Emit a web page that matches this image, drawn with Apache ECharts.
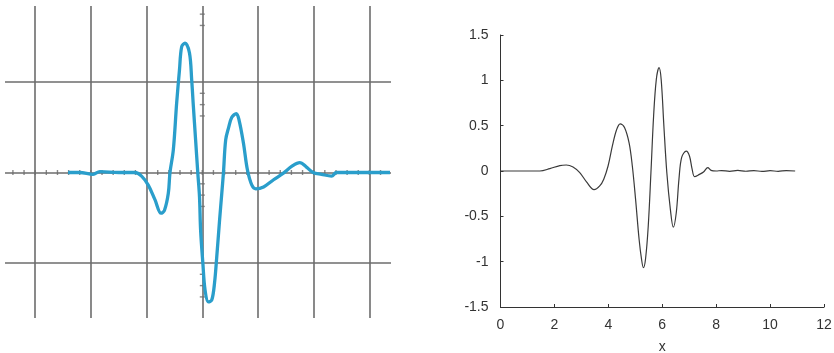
<!DOCTYPE html>
<html>
<head>
<meta charset="utf-8">
<title>Wavelet comparison</title>
<script src="https://cdn.jsdelivr.net/npm/echarts@6/dist/echarts.min.js"></script>
<style>
  html, body { margin: 0; padding: 0; background: #ffffff; }
  #chart { width: 834px; height: 353px; }
</style>
</head>
<body>
<div id="chart"></div>
<script>
// ---- Scope trace (left), in screen divisions ----
const scopeX = [-2.41, -2.2, -1.96, -1.84, -1.5, -1.21, -1.09, -0.97, -0.85, -0.74, -0.68, -0.61, -0.58,
  -0.52, -0.46, -0.41, -0.37, -0.31, -0.23, -0.19, -0.16, -0.12, -0.08, -0.05, -0.03, 0.01, 0.05,
  0.11, 0.17, 0.22, 0.26, 0.31, 0.35, 0.38, 0.42, 0.47, 0.53, 0.61, 0.66, 0.74, 0.81, 0.89, 0.96,
  1.10, 1.28, 1.45, 1.61, 1.75, 1.87, 1.99, 2.14, 2.32, 2.41, 2.83, 3.19, 3.37];
const scopeY = [0, 0, -0.02, 0.01, 0, 0, -0.04, -0.14, -0.30, -0.45, -0.42, -0.23, 0,
  0.25, 0.77, 1.13, 1.39, 1.43, 1.32, 1.02, 0.73, 0.36, -0.01, -0.27, -0.64, -1.00, -1.30,
  -1.43, -1.41, -1.22, -0.93, -0.53, -0.23, 0, 0.36, 0.49, 0.61, 0.65, 0.58, 0.32, 0.03, -0.14, -0.18,
  -0.16, -0.08, -0.01, 0.07, 0.11, 0.06, 0, -0.02, -0.04, 0, 0, 0, 0];

// Graticule: major divisions and the minor marks on the centre lines
const scopeMajorX = [-3, -2, -1, 0, 1, 2, 3];
const scopeMajorY = [-1, 0, 1];
const scopeMinorStepX = 0.2;
const scopeMinorY = [1.75, 1.625, 0.875, 0.75, 0.625, -0.125, -0.25, -0.375, -1.125, -1.25, -1.375];

// ---- Simulated wavelet (right) ----
const simX = [0, 1.46, 1.83, 2.2, 2.44, 2.69, 2.94, 3.19, 3.47, 3.68, 3.83, 3.99, 4.15, 4.30, 4.44,
  4.6, 4.77, 4.89, 5.01, 5.14, 5.23, 5.30, 5.38, 5.48, 5.58, 5.68, 5.78, 5.88, 5.96, 6.06, 6.17,
  6.3, 6.41, 6.52, 6.62, 6.72, 6.89, 7.01, 7.11, 7.2, 7.38, 7.53, 7.69, 7.81, 8.0, 8.2, 8.5, 8.8,
  9.1, 9.4, 9.7, 10.0, 10.3, 10.6, 10.93];
const simY = [0, 0, 0.026, 0.06, 0.066, 0.044, -0.018, -0.12, -0.206, -0.165, -0.09, 0.055, 0.276, 0.45, 0.52,
  0.48, 0.31, 0.055, -0.31, -0.75, -0.97, -1.066, -0.97, -0.61, -0.02, 0.61, 1.01, 1.14, 1.01, 0.50, -0.02,
  -0.42, -0.62, -0.46, -0.09, 0.15, 0.22, 0.165, 0.018, -0.063, -0.037, -0.011, 0.037, 0.007, 0, 0.005, -0.004, 0.006,
  -0.003, 0.005, -0.005, 0.004, -0.004, 0.005, 0];

const xTicksRight = [0, 2, 4, 6, 8, 10, 12];
const yTicksRight = [-1.5, -1, -0.5, 0, 0.5, 1, 1.5];

const zip = (a, b) => a.map((v, i) => [v, b[i]]);

const gridGray = '#6c6c6c';
const scopeXMin = -3.542, scopeXMax = 3.388;
const scopeYMin = -1.608, scopeYMax = 1.84;

// minor marks along the horizontal centre line, one every fifth of a division
const minorXMarks = [];
for (let k = Math.ceil(scopeXMin / scopeMinorStepX); k * scopeMinorStepX <= scopeXMax; k++) {
  minorXMarks.push([+(k * scopeMinorStepX).toFixed(2), 0]);
}
const minorYMarks = scopeMinorY.map(v => [0, v]);

const font = 'Liberation Sans, Arial, Helvetica, sans-serif';
const chart = echarts.init(document.getElementById('chart'), null, { renderer: 'canvas' });

chart.setOption({
  backgroundColor: '#ffffff',
  animation: false,
  grid: [
    { left: 5, top: 6, width: 386, height: 312, containLabel: false, outerBoundsMode: 'none' },
    { left: 500.5, top: 35, width: 323.5, height: 272, containLabel: false, outerBoundsMode: 'none' }
  ],
  xAxis: [
    { gridIndex: 0, type: 'value', min: scopeXMin, max: scopeXMax, show: false },
    {
      gridIndex: 1, type: 'value', min: 0, max: 12, interval: 2,
      name: 'x', nameLocation: 'middle', nameGap: 33,
      nameTextStyle: { fontFamily: font, fontSize: 14, color: '#333' },
      axisLine: { show: true, onZero: false, lineStyle: { color: '#333', width: 1 } },
      axisTick: { show: true, inside: true, length: 3, lineStyle: { color: '#333' } },
      axisLabel: { margin: 11, fontFamily: font, fontSize: 14, color: '#333',
        formatter: v => xTicksRight.includes(v) ? String(v) : '' },
      splitLine: { show: false }
    }
  ],
  yAxis: [
    { gridIndex: 0, type: 'value', min: scopeYMin, max: scopeYMax, show: false },
    {
      gridIndex: 1, type: 'value', min: -1.5, max: 1.5, interval: 0.5,
      axisLine: { show: true, onZero: false, lineStyle: { color: '#333', width: 1 } },
      axisTick: { show: true, inside: true, length: 3, lineStyle: { color: '#333' } },
      axisLabel: { margin: 12, fontFamily: font, fontSize: 14, color: '#333',
        formatter: v => yTicksRight.includes(v) ? String(v) : '' },
      splitLine: { show: false }
    }
  ],
  series: [
    {
      // graticule lines
      type: 'line', xAxisIndex: 0, yAxisIndex: 0, data: [], silent: true, z: 1,
      markLine: {
        silent: true, symbol: ['none', 'none'], label: { show: false },
        lineStyle: { color: gridGray, width: 1.6, type: 'solid' },
        data: scopeMajorX.map(v => ({ xAxis: v })).concat(scopeMajorY.map(v => ({ yAxis: v })))
      }
    },
    {
      type: 'scatter', xAxisIndex: 0, yAxisIndex: 0, data: minorXMarks, silent: true, z: 2,
      symbol: 'rect', symbolSize: [1.4, 5], itemStyle: { color: gridGray }
    },
    {
      type: 'scatter', xAxisIndex: 0, yAxisIndex: 0, data: minorYMarks, silent: true, z: 2,
      symbol: 'rect', symbolSize: [5, 1.4], itemStyle: { color: gridGray }
    },
    {
      type: 'line', xAxisIndex: 0, yAxisIndex: 0, data: zip(scopeX, scopeY), z: 5,
      showSymbol: false, smooth: 0.35,
      lineStyle: { color: '#2a9ecb', width: 3.3 }
    },
    {
      type: 'line', xAxisIndex: 1, yAxisIndex: 1, data: zip(simX, simY), z: 5,
      showSymbol: false, smooth: 0.35,
      lineStyle: { color: '#3a3a3a', width: 1.2 }
    }
  ]
});
</script>
</body>
</html>
